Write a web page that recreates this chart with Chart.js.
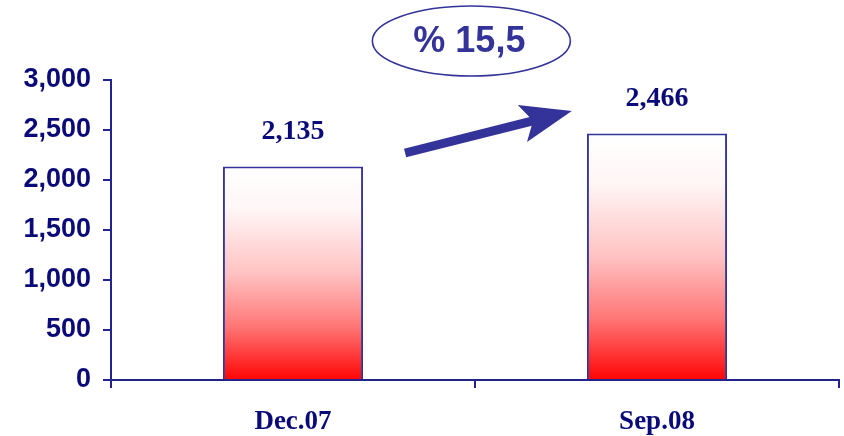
<!DOCTYPE html>
<html>
<head>
<meta charset="utf-8">
<script src="https://cdn.jsdelivr.net/npm/chart.js@4"></script>
<style>
  html, body { margin: 0; padding: 0; background: #fff; }
  #wrap { width: 844px; height: 436px; }
</style>
</head>
<body>
<div id="wrap"><canvas id="bar-chart" width="844" height="436"></canvas></div>
<script>
var periods = ["Dec.07", "Sep.08"];
var totals = [2135, 2466];
var yTicks = [0, 500, 1000, 1500, 2000, 2500, 3000];
var growthLabel = "% 15,5";

var navy = '#0a0a78';
var axisColor = '#23238f';
var accent = '#333399';

function fmt(v) {
  return v.toLocaleString('en-US');
}

// white on top, red at the bottom of each bar
function barGradient(ctx) {
  var chart = ctx.chart;
  if (!chart.chartArea || ctx.raw === undefined) return '#ff0000';
  var y = chart.scales.y;
  var top = y.getPixelForValue(ctx.raw);
  var bottom = y.getPixelForValue(0);
  var g = chart.ctx.createLinearGradient(0, top, 0, bottom);
  g.addColorStop(0, '#ffffff');
  g.addColorStop(0.2, '#fff6f6');
  g.addColorStop(0.5, '#ffc2c2');
  g.addColorStop(0.75, '#ff7676');
  g.addColorStop(1, '#ff0505');
  return g;
}

var extras = {
  id: 'extras',
  afterDatasetsDraw: function (chart) {
    var c = chart.ctx;
    var x = chart.scales.x, y = chart.scales.y;
    var meta = chart.getDatasetMeta(0);

    // value labels
    c.save();
    c.fillStyle = navy;
    c.font = 'bold 28px "Liberation Serif", serif';
    c.textAlign = 'center';
    c.textBaseline = 'middle';
    meta.data.forEach(function (bar, i) {
      c.fillText(fmt(totals[i]), bar.x, bar.y - 35);
    });
    c.restore();

    // arrow
    var x0 = x.getPixelForValue(0.308), y0 = y.getPixelForValue(2270);
    var x1 = x.getPixelForValue(0.766), y1 = y.getPixelForValue(2690);
    var ang = Math.atan2(y1 - y0, x1 - x0);
    var headLen = 40, headHalf = 19, notch = 11;
    var bx = x1 - headLen * Math.cos(ang), by = y1 - headLen * Math.sin(ang);
    c.save();
    c.strokeStyle = accent;
    c.fillStyle = accent;
    c.lineWidth = 9;
    c.beginPath();
    c.moveTo(x0, y0);
    c.lineTo(bx + 8 * Math.cos(ang), by + 8 * Math.sin(ang));
    c.stroke();
    c.beginPath();
    c.moveTo(x1, y1);
    c.lineTo(bx - headHalf * Math.sin(ang) - notch * Math.cos(ang), by + headHalf * Math.cos(ang) - notch * Math.sin(ang));
    c.lineTo(bx, by);
    c.lineTo(bx + headHalf * Math.sin(ang) - notch * Math.cos(ang), by - headHalf * Math.cos(ang) - notch * Math.sin(ang));
    c.closePath();
    c.fill();
    c.restore();

    // growth bubble
    var ex = x.getPixelForValue(0.49), ey = y.getPixelForValue(3390);
    c.save();
    c.strokeStyle = accent;
    c.lineWidth = 1.6;
    c.beginPath();
    c.ellipse(ex, ey, 99, 35, 0, 0, Math.PI * 2);
    c.stroke();
    c.fillStyle = accent;
    c.font = 'bold 36px "Liberation Sans", Arial, sans-serif';
    c.textAlign = 'center';
    c.textBaseline = 'middle';
    c.fillText(growthLabel, ex - 2, ey + 1);
    c.restore();
  }
};

new Chart(document.getElementById("bar-chart"), {
  type: 'bar',
  data: {
    labels: periods,
    datasets: [{
      data: totals,
      backgroundColor: barGradient,
      borderColor: accent,
      borderWidth: 2,
      categoryPercentage: 1,
      barPercentage: 0.385
    }]
  },
  options: {
    responsive: false,
    animation: false,
    layout: { padding: { top: 80, right: 5, left: 0, bottom: 0 } },
    plugins: {
      legend: { display: false },
      tooltip: { enabled: false }
    },
    scales: {
      x: {
        grid: { drawOnChartArea: false, tickLength: 8, color: axisColor, lineWidth: 2 },
        border: { color: axisColor, width: 2 },
        ticks: {
          color: navy,
          padding: 18,
          font: { family: '"Liberation Serif", serif', size: 27, weight: 'bold' }
        },
        afterFit: function (scale) { scale.height = 56; }
      },
      y: {
        min: 0,
        max: 3000,
        afterBuildTicks: function (scale) {
          scale.ticks = yTicks.map(function (v) { return { value: v }; });
        },
        grid: { drawOnChartArea: false, tickLength: 8, color: axisColor, lineWidth: 2 },
        border: { color: axisColor, width: 2 },
        ticks: {
          color: navy,
          padding: 12,
          font: { family: '"Liberation Sans", Arial, sans-serif', size: 27, weight: 'bold' },
          callback: function (v) { return fmt(v); }
        },
        afterFit: function (scale) { scale.width = 111; }
      }
    }
  },
  plugins: [extras]
});
</script>
</body>
</html>
